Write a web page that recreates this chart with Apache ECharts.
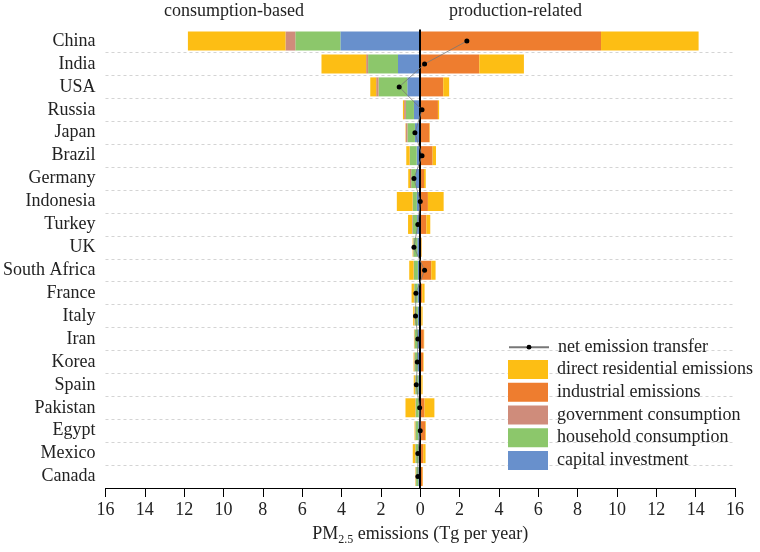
<!DOCTYPE html>
<html>
<head>
<meta charset="utf-8">
<script src="https://cdn.jsdelivr.net/npm/echarts@6/dist/echarts.min.js"></script>
<style>html,body{margin:0;padding:0;background:#fff}#c{width:760px;height:552px}</style>
</head>
<body>
<div id="c"></div>
<script>
var categories = ['China','India','USA','Russia','Japan','Brazil','Germany','Indonesia','Turkey','UK','South Africa','France','Italy','Iran','Korea','Spain','Pakistan','Egypt','Mexico','Canada'];
var capitalInvestment = [4.06, 1.13, 0.66, 0.32, 0.27, 0.18, 0.22, 0.17, 0.16, 0.15, 0.12, 0.13, 0.12, 0.12, 0.12, 0.10, 0.08, 0.10, 0.09, 0.10];
var householdConsumption = [2.29, 1.52, 1.46, 0.41, 0.38, 0.34, 0.24, 0.20, 0.23, 0.20, 0.20, 0.17, 0.16, 0.16, 0.16, 0.15, 0.15, 0.14, 0.15, 0.11];
var governmentConsumption = [0.50, 0.10, 0.12, 0.09, 0.08, 0.02, 0.06, 0.02, 0.03, 0.02, 0.02, 0.02, 0.02, 0.02, 0.03, 0.02, 0.02, 0.02, 0.02, 0.02];
var directResidential = [4.96, 2.27, 0.30, 0.06, 0.02, 0.17, 0.09, 0.80, 0.20, 0.02, 0.22, 0.12, 0.06, 0.02, 0.03, 0.06, 0.50, 0.03, 0.12, 0.02];
var industrialEmissions = [9.19, 3.00, 1.17, 0.90, 0.47, 0.63, 0.19, 0.39, 0.31, 0.06, 0.56, 0.10, 0.06, 0.18, 0.14, 0.06, 0.22, 0.26, 0.15, 0.12];
var netTransfer = [2.37, 0.22, -1.07, 0.09, -0.27, 0.09, -0.32, 0.00, -0.12, -0.32, 0.22, -0.22, -0.24, -0.12, -0.15, -0.20, -0.03, 0.00, -0.12, -0.12];
var xTicks = {min: -16, max: 16, interval: 2};

var FONT = '"Liberation Serif", "DejaVu Serif", serif';
var C = {
  yellow: '#FDBE14',
  orange: '#EE7D2F',
  pink: '#CF8C7B',
  green: '#8CC76B',
  blue: '#6890CC'
};
function neg(a){ return a.map(function(v){ return -v; }); }

var chart = echarts.init(document.getElementById('c'), null, {renderer: 'canvas'});
var barW = 19;
var legendText = {fontFamily: FONT, fontSize: 18, color: '#222', padding: [0,0,0,4]};
chart.setOption({
  animation: false,
  backgroundColor: '#fff',
  textStyle: {fontFamily: FONT},
  grid: {left: 105, right: 25, top: 29.6, bottom: 64, containLabel: false},
  graphic: [
    {type: 'text', left: 164, top: 2, style: {text: 'consumption-based', font: '18px ' + FONT, fill: '#222'}},
    {type: 'text', left: 449, top: 2, style: {text: 'production-related', font: '18px ' + FONT, fill: '#222'}}
  ],
  legend: [
    {
      orient: 'vertical',
      left: 503,
      top: 333.2,
      itemWidth: 40,
      itemHeight: 6,
      textStyle: legendText,
      data: ['net emission transfer']
    },
    {
      orient: 'vertical',
      left: 503,
      top: 355.1,
      itemWidth: 40,
      itemHeight: 19,
      itemGap: 3.7,
      textStyle: legendText,
      data: [
        {name: 'direct residential emissions', icon: 'rect'},
        {name: 'industrial emissions', icon: 'rect'},
        {name: 'government consumption', icon: 'rect'},
        {name: 'household consumption', icon: 'rect'},
        {name: 'capital investment', icon: 'rect'}
      ]
    }
  ],
  xAxis: {
    type: 'value',
    min: xTicks.min, max: xTicks.max, interval: xTicks.interval,
    axisLine: {show: true, onZero: false, lineStyle: {color: '#000', width: 1}},
    axisTick: {show: true, length: 9, lineStyle: {color: '#000'}},
    splitLine: {show: false},
    axisLabel: {
      fontFamily: FONT, fontSize: 18, color: '#222', margin: 13,
      formatter: function(v){ return String(Math.abs(v)); }
    },
    name: 'PM{s|2.5} emissions (Tg per year)',
    nameLocation: 'middle',
    nameGap: 34,
    nameTextStyle: {
      fontFamily: FONT, fontSize: 18, color: '#222',
      rich: {s: {fontFamily: FONT, fontSize: 12, color: '#222', padding: [12, 0, 0, 0]}}
    }
  },
  yAxis: {
    type: 'category',
    inverse: true,
    data: categories,
    axisLine: {show: false},
    axisTick: {show: false, interval: 0},
    axisLabel: {fontFamily: FONT, fontSize: 18, color: '#222', margin: 10, interval: 0},
    splitLine: {show: true, interval: function(i){ return i !== 0; }, lineStyle: {color: '#d4d4d4', type: [3, 3], width: 1}}
  },
  series: [
    {name: 'capital investment', type: 'bar', stack: 'tot', barWidth: barW, data: neg(capitalInvestment), itemStyle: {color: C.blue},
     markLine: {silent: true, symbol: 'none', label: {show: false}, lineStyle: {color: '#000', width: 2, type: 'solid'}, data: [{xAxis: 0}]}},
    {name: 'household consumption', type: 'bar', stack: 'tot', barWidth: barW, data: neg(householdConsumption), itemStyle: {color: C.green}},
    {name: 'government consumption', type: 'bar', stack: 'tot', barWidth: barW, data: neg(governmentConsumption), itemStyle: {color: C.pink}},
    {name: 'industrial emissions', type: 'bar', stack: 'tot', barWidth: barW, data: industrialEmissions, itemStyle: {color: C.orange}},
    {name: 'direct residential emissions', type: 'bar', stack: 'tot', barWidth: barW, data: neg(directResidential), itemStyle: {color: C.yellow}},
    {name: 'direct residential emissions', type: 'bar', stack: 'tot', barWidth: barW, data: directResidential, itemStyle: {color: C.yellow}},
    {name: 'net emission transfer', type: 'line', data: netTransfer, symbol: 'circle', symbolSize: 5, z: 10,
     itemStyle: {color: '#000'}, lineStyle: {color: '#777', width: 0.8}}
  ]
});
</script>
</body>
</html>
